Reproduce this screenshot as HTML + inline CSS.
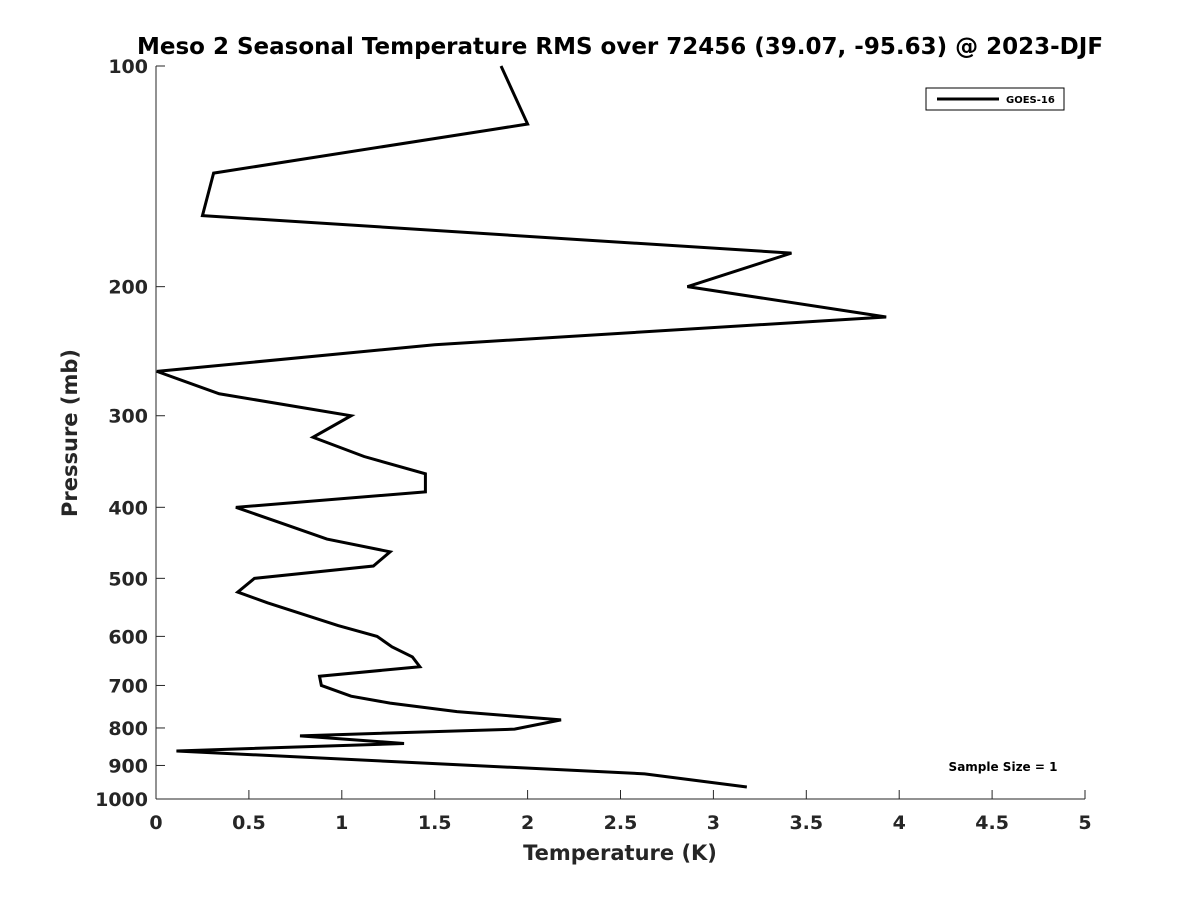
<!DOCTYPE html>
<html><head><meta charset="utf-8"><style>
body{margin:0;background:#fff}
text{font-family:"DejaVu Sans","Liberation Sans",sans-serif;font-weight:bold;fill:#262626}
</style></head><body>
<svg id="chart" width="1200" height="900">
<text x="620" y="54" text-anchor="middle" font-size="23" style="fill:#000">Meso 2 Seasonal Temperature RMS over 72456 (39.07, -95.63) @ 2023-DJF</text>
<g id="axes"></g>
<polyline id="line" fill="none" stroke="#000" stroke-width="3" stroke-linejoin="miter"/>
<g>
<rect x="926" y="88" width="138" height="22" fill="#fff" stroke="#000" stroke-width="1"/>
<line x1="937" y1="99" x2="999" y2="99" stroke="#000" stroke-width="3"/>
<text x="1006" y="103" font-size="10" style="fill:#000">GOES-16</text>
</g>
<text x="1003" y="771" text-anchor="middle" font-size="12" style="fill:#000">Sample Size = 1</text>
<text x="620" y="860" text-anchor="middle" font-size="21">Temperature (K)</text>
<text transform="translate(77,433) rotate(-90)" text-anchor="middle" font-size="21">Pressure (mb)</text>
</svg>
<script>
const temps=[1.857,2.0,0.31,0.25,3.42,2.86,3.93,1.50,0.005,0.34,1.05,0.845,1.12,1.45,1.45,0.43,0.67,0.92,1.26,1.17,0.53,0.44,0.60,0.98,1.19,1.27,1.38,1.42,0.88,0.89,1.05,1.26,1.62,2.18,1.93,0.775,1.335,0.11,2.63,3.18];
const pressures=[100,120,140,160,180,200,220,240,261,280,300,321,341,360,381,400,420,442,460,481,500,522,540,580,600,620,640,660,680,700,724,740,760,780,803,820,840,860,924,963];
const xTicks=[0,0.5,1,1.5,2,2.5,3,3.5,4,4.5,5];
const xTickLabels=["0","0.5","1","1.5","2","2.5","3","3.5","4","4.5","5"];
const yTicks=[100,200,300,400,500,600,700,800,900,1000];
const x0=156,x1=1085,y0=66,y1=799;
const X=t=>x0+(t/5)*(x1-x0);
const Y=p=>y0+Math.log10(p/100)*(y1-y0);
const NS="http://www.w3.org/2000/svg";
const ax=document.getElementById('axes');
function mk(tag,attrs){const e=document.createElementNS(NS,tag);for(const k in attrs)e.setAttribute(k,attrs[k]);ax.appendChild(e);return e;}
let l=mk('line',{x1:x0,y1:y0,x2:x0,y2:y1,stroke:'#262626','stroke-width':1});


l=mk('line',{x1:x0,y1:y1,x2:x1,y2:y1,stroke:'#262626','stroke-width':1});


xTicks.forEach((t,i)=>{
 const tk=mk('line',{x1:X(t),y1:y1,x2:X(t),y2:y1-9,stroke:'#262626'});
 
 
 const tx=mk('text',{x:X(t),y:y1+30,'text-anchor':'middle','font-size':19});
 tx.textContent=xTickLabels[i];
 
 
});
yTicks.forEach(p=>{
 const tk=mk('line',{x1:x0,y1:Y(p),x2:x0+9,y2:Y(p),stroke:'#262626'});
 
 
 const tx=mk('text',{x:x0-8,y:Y(p)+7,'text-anchor':'end','font-size':19});
 tx.textContent=String(p);
 
 
});
document.getElementById('line').setAttribute('points',temps.map((t,i)=>X(t)+','+Y(pressures[i])).join(' '));
</script>
</body></html>
